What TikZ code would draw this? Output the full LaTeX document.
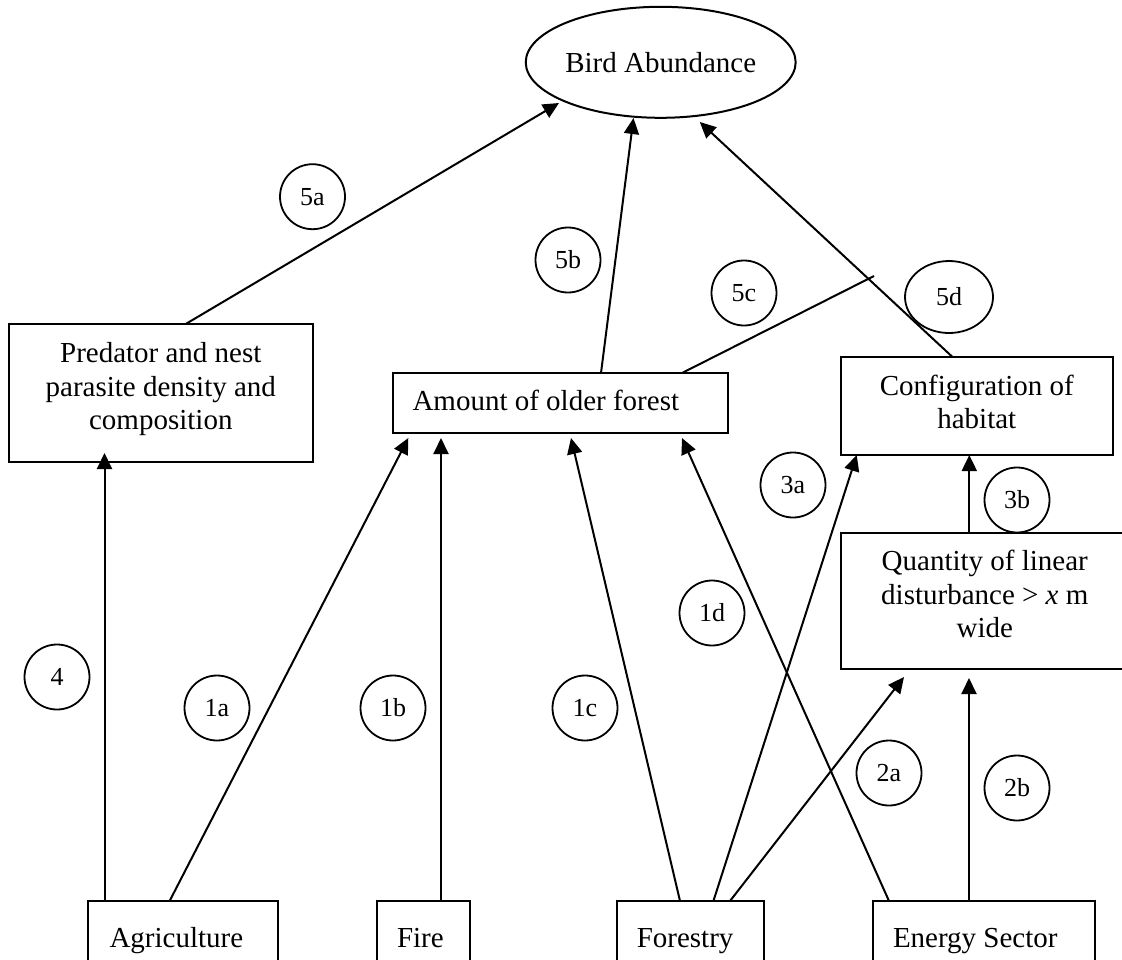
\documentclass[tikz,border=0pt]{standalone}
\usepackage{fontspec}
\setmainfont{Liberation Serif}
\usetikzlibrary{shapes.geometric,arrows.meta,calc}
\begin{document}
\begin{tikzpicture}[x=1pt,y=-1pt,
  every node/.style={outer sep=0pt},
  box/.style={draw, line width=2pt, inner sep=0pt, align=center, font=\fontsize{29}{33.5}\selectfont},
  lbox/.style={draw, line width=2pt, inner ysep=0pt, inner xsep=20pt, align=flush left, text height=20.5pt, text depth=6.5pt, font=\fontsize{29}{33.5}\selectfont},
  lab/.style={draw, ellipse, line width=1.8pt, inner sep=0pt, minimum width=65pt, minimum height=65pt, font=\fontsize{26}{30}\selectfont},
  arr/.style={line width=2pt, -{Triangle[length=16pt,width=15pt]}},
  ln/.style={line width=2pt}
]
\useasboundingbox (0,0) rectangle (1122,959);
\clip (0,0) rectangle (1122,959);

% main nodes
\node[draw, ellipse, line width=2pt, inner sep=0pt, minimum width=232pt, minimum height=111pt,
      font=\fontsize{29}{33.5}\selectfont] (bird) at (660.7,62.3) {Bird Abundance};
\node[box, text depth=14pt, minimum width=304.4pt, minimum height=138pt, anchor=north west] (pred) at (8.6,324)
  {Predator and nest\\parasite density and\\composition};
\node[lbox, inner xsep=19.5pt, text width=296pt, minimum height=60pt, anchor=north west] (amount) at (393,373)
  {Amount of older forest};
\node[box, text depth=8pt, minimum width=272.4pt, minimum height=98pt, anchor=north west] (config) at (840.6,357)
  {Configuration of\\habitat};
\node[box, text depth=14pt, minimum width=288.4pt, minimum height=136pt, anchor=north west] (quant) at (840.6,533)
  {Quantity of linear\\disturbance > \textit{x} m\\wide};
\node[lbox, inner xsep=21.5pt, text width=146.6pt, minimum height=78pt, anchor=north west] (agri) at (88,901) {Agriculture};
\node[lbox, text width=53pt, minimum height=78pt, anchor=north west] (fire) at (377,901) {Fire};
\node[lbox, text width=107.4pt, minimum height=78pt, anchor=north west] (forestry) at (616.8,901) {Forestry};
\node[lbox, text width=182pt, minimum height=78pt, anchor=north west] (energy) at (873,901) {Energy Sector};

% label circles
\node[lab] (l5a) at (312.5,196.7) {5a};
\node[lab] (l5b) at (568,260) {5b};
\node[lab] (l5c) at (744,293) {5c};
\node[lab, minimum width=88pt, minimum height=72pt] (l5d) at (949,297) {5d};
\node[lab] (l4) at (57,677) {4};
\node[lab] (l1a) at (217,708) {1a};
\node[lab] (l1b) at (393,708) {1b};
\node[lab] (l1c) at (585,708) {1c};
\node[lab] (l1d) at (712,613) {1d};
\node[lab] (l3a) at (793,485) {3a};
\node[lab] (l3b) at (1017,500) {3b};
\node[lab] (l2a) at (889,773) {2a};
\node[lab] (l2b) at (1017,788) {2b};

\coordinate (tick) at (874,276);

% connectors
\draw[arr] ($(agri.north west)+(16.5,0)$) -- ($(pred.north west)+(95.9,129)$);
\draw[arr] ($(agri.north west)+(81.6,0)$) -- ($(amount.north west)+(15.3,65)$);
\draw[arr] ($(fire.north west)+(64,0)$) -- ($(amount.north west)+(48,65)$);
\draw[arr] ($(forestry.north west)+(63.2,0)$) -- ($(amount.north west)+(178,65)$);
\draw[arr] ($(energy.north west)+(16,0)$) -- ($(amount.north west)+(289,65)$);
\draw[arr] ($(forestry.north west)+(96.6,0)$) -- ($(config.north west)+(16.1,98)$);
\draw[arr] ($(forestry.north west)+(113.2,0)$) -- ($(quant.north west)+(63.4,144)$);
\draw[arr] ($(energy.north west)+(96,0)$) -- ($(quant.north west)+(128.4,145)$);
\draw[arr] ($(quant.north west)+(128.7,0)$) -- ($(config.north west)+(128.7,98)$);
\draw[arr] ($(pred.north west)+(177.1,0)$) -- ($(bird.center)+(-101.7,40.7)$);
\draw[arr] ($(amount.north west)+(208,0)$) -- ($(bird.center)+(-27.2,55.7)$);
\draw[ln] ($(amount.north west)+(289,0)$) -- (tick);
\draw[arr] ($(config.north west)+(111.9,0)$) -- ($(bird.center)+(39.1,59.7)$);
\end{tikzpicture}
\end{document}
